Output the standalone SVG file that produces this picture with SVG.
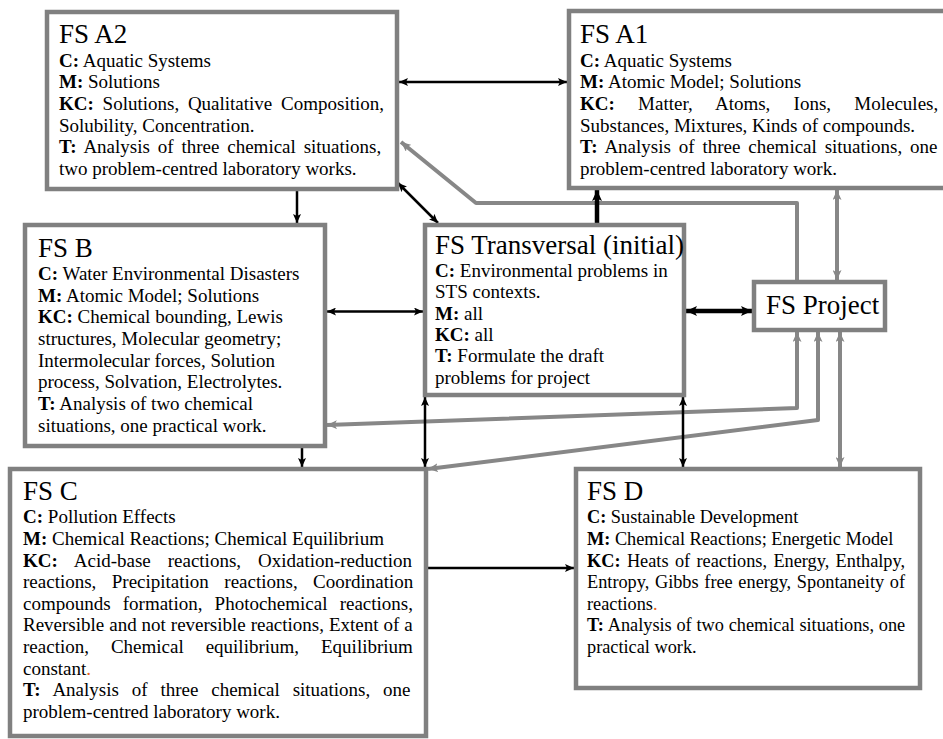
<svg xmlns="http://www.w3.org/2000/svg" width="943" height="739" viewBox="0 0 943 739">
  <style>
    .box { fill: #ffffff; stroke: #808080; stroke-width: 4.5; }
    .t { font-family: "Liberation Serif", "Times New Roman", "DejaVu Serif", serif; font-size: 19px; fill: #000000; }
    .s { font-size: 18.3px; }
    .h { font-family: "Liberation Serif", "Times New Roman", "DejaVu Serif", serif; font-size: 27px; fill: #000000; }
    .b { font-weight: bold; }
    .dot { fill: #e8631a; }
    .blk { fill: none; stroke: #000000; stroke-width: 2.5; }
    .blk-thick { fill: none; stroke: #000000; stroke-width: 4.5; }
    .gry { fill: none; stroke: #878787; stroke-width: 4; stroke-linejoin: round; }
    .a-blk { marker-end: url(#arrow-black); }
    .a-thick { marker-end: url(#arrow-black-lg); }
    .a2-blk { marker-start: url(#arrow-black); marker-end: url(#arrow-black); }
    .a2-thick { marker-start: url(#arrow-black-lg); marker-end: url(#arrow-black-lg); }
    .a-gry { marker-end: url(#arrow-gray); }
    .a2-gry { marker-start: url(#arrow-gray); marker-end: url(#arrow-gray); }
  </style>
  <defs>
    <marker id="arrow-black" markerUnits="userSpaceOnUse" markerWidth="9" markerHeight="8" refX="9" refY="4" orient="auto-start-reverse">
      <path d="M0,0 L9,4 L0,8 L2,4 Z" fill="#000000"/>
    </marker>
    <marker id="arrow-black-lg" markerUnits="userSpaceOnUse" markerWidth="11" markerHeight="10" refX="11" refY="5" orient="auto-start-reverse">
      <path d="M0,0 L11,5 L0,10 L2.5,5 Z" fill="#000000"/>
    </marker>
    <marker id="arrow-gray" markerUnits="userSpaceOnUse" markerWidth="10" markerHeight="9" refX="10" refY="4.5" orient="auto-start-reverse">
      <path d="M0,0 L10,4.5 L0,9 L2.5,4.5 Z" fill="#878787"/>
    </marker>
  </defs>

  <rect width="943" height="739" fill="#ffffff"/>

  <!-- connectors -->
  <g id="connectors">
    <path class="blk a2-blk" d="M399,82 H567"/>
    <path class="blk a-blk" d="M297,191 V223"/>
    <path class="blk a2-blk" d="M398,183 L438,223"/>
    <path class="gry a-gry" d="M797,280 V203 H476 L401,142"/>
    <path class="blk-thick a-thick" d="M597,223 V190"/>
    <path class="gry a2-gry" d="M837,190 V280"/>
    <path class="blk a2-blk" d="M327,311.5 H423"/>
    <path class="blk-thick a2-thick" d="M686,311 H752"/>
    <path class="gry a2-gry" d="M797,332 V408 L327,425"/>
    <path class="gry a2-gry" d="M818,332 V420 L428,469"/>
    <path class="gry a2-gry" d="M840,332 V467"/>
    <path class="blk a-blk" d="M302,448 V467"/>
    <path class="blk a2-blk" d="M425,397 V467"/>
    <path class="blk a2-blk" d="M683,397 V467"/>
    <path class="blk a-blk" d="M428,568 H574"/>
  </g>

  <!-- FS A2 -->
  <g id="fs-a2">
    <rect class="box" x="47" y="12" width="350" height="177"/>
    <text class="h" x="59" y="43">FS A2</text>
    <text class="t" x="59" y="66.7"><tspan class="b">C:</tspan> Aquatic Systems</text>
    <text class="t" x="59" y="88.3"><tspan class="b">M:</tspan> Solutions</text>
    <text class="t" x="59" y="110" style="word-spacing:4px"><tspan class="b">KC:</tspan> Solutions, Qualitative Composition,</text>
    <text class="t" x="59" y="131.7">Solubility, Concentration.</text>
    <text class="t" x="59" y="153.3" style="word-spacing:3.1px"><tspan class="b">T:</tspan> Analysis of three chemical situations,</text>
    <text class="t" x="59" y="175">two problem-centred laboratory works.</text>
  </g>

  <!-- FS A1 -->
  <g id="fs-a1">
    <rect class="box" x="569" y="11" width="390" height="177"/>
    <text class="h" x="580" y="43">FS A1</text>
    <text class="t" x="580" y="66.7"><tspan class="b">C:</tspan> Aquatic Systems</text>
    <text class="t" x="580" y="88.3"><tspan class="b">M:</tspan> Atomic Model; Solutions</text>
    <text class="t" x="580" y="110" style="word-spacing:18.5px"><tspan class="b">KC:</tspan> Matter, Atoms, Ions, Molecules,</text>
    <text class="t" x="580" y="131.7">Substances, Mixtures, Kinds of compounds.</text>
    <text class="t" x="580" y="153.3" style="word-spacing:3.1px"><tspan class="b">T:</tspan> Analysis of three chemical situations, one</text>
    <text class="t" x="580" y="175">problem-centred laboratory work.</text>
  </g>

  <!-- FS B -->
  <g id="fs-b">
    <rect class="box" x="25" y="225" width="300" height="221"/>
    <text class="h" x="38" y="257">FS B</text>
    <text class="t" x="38" y="280"><tspan class="b">C:</tspan> Water Environmental Disasters</text>
    <text class="t" x="38" y="301.7"><tspan class="b">M:</tspan> Atomic Model; Solutions</text>
    <text class="t" x="38" y="323.3"><tspan class="b">KC:</tspan> Chemical bounding, Lewis</text>
    <text class="t" x="38" y="345">structures, Molecular geometry;</text>
    <text class="t" x="38" y="366.7">Intermolecular forces, Solution</text>
    <text class="t" x="38" y="388.3">process, Solvation, Electrolytes.</text>
    <text class="t" x="38" y="410"><tspan class="b">T:</tspan> Analysis of two chemical</text>
    <text class="t" x="38" y="431.7">situations, one practical work.</text>
  </g>

  <!-- FS Transversal -->
  <g id="fs-transversal">
    <rect class="box" x="425" y="225" width="259" height="170"/>
    <text class="h" x="435" y="254">FS Transversal (initial)</text>
    <text class="t" x="435" y="277"><tspan class="b">C:</tspan> Environmental problems in</text>
    <text class="t" x="435" y="298.3">STS contexts.</text>
    <text class="t" x="435" y="319.6"><tspan class="b">M:</tspan> all</text>
    <text class="t" x="435" y="341"><tspan class="b">KC:</tspan> all</text>
    <text class="t" x="435" y="362.2"><tspan class="b">T:</tspan> Formulate the draft</text>
    <text class="t" x="435" y="383.5">problems for project</text>
  </g>

  <!-- FS Project -->
  <g id="fs-project">
    <rect class="box" x="754" y="282" width="131" height="48"/>
    <text class="h" x="766" y="314">FS Project</text>
  </g>

  <!-- FS C -->
  <g id="fs-c">
    <rect class="box" x="10" y="469" width="416" height="267"/>
    <text class="h" x="23" y="500">FS C</text>
    <text class="t" x="23" y="523.3"><tspan class="b">C:</tspan> Pollution Effects</text>
    <text class="t" x="23" y="545"><tspan class="b">M:</tspan> Chemical Reactions; Chemical Equilibrium</text>
    <text class="t" x="23" y="566.6" style="word-spacing:12.2px"><tspan class="b">KC:</tspan> Acid-base reactions, Oxidation-reduction</text>
    <text class="t" x="23" y="588.2" style="word-spacing:10.7px">reactions, Precipitation reactions, Coordination</text>
    <text class="t" x="23" y="609.8" style="word-spacing:7.4px">compounds formation, Photochemical reactions,</text>
    <text class="t" x="23" y="631.4" style="word-spacing:0.2px">Reversible and not reversible reactions, Extent of a</text>
    <text class="t" x="23" y="653" style="word-spacing:17.2px">reaction, Chemical equilibrium, Equilibrium</text>
    <text class="t" x="23" y="674.6">constant<tspan class="dot">.</tspan></text>
    <text class="t" x="23" y="696.2" style="word-spacing:8.1px"><tspan class="b">T:</tspan> Analysis of three chemical situations, one</text>
    <text class="t" x="23" y="717.8">problem-centred laboratory work.</text>
  </g>

  <!-- FS D -->
  <g id="fs-d">
    <rect class="box" x="576" y="469" width="344" height="219"/>
    <text class="h" x="587" y="500">FS D</text>
    <text class="t s" x="587" y="523.3"><tspan class="b">C:</tspan> Sustainable Development</text>
    <text class="t s" x="587" y="545"><tspan class="b">M:</tspan> Chemical Reactions; Energetic Model</text>
    <text class="t s" x="587" y="566.6" style="word-spacing:1.8px"><tspan class="b">KC:</tspan> Heats of reactions, Energy, Enthalpy,</text>
    <text class="t s" x="587" y="588.2" style="word-spacing:1.1px">Entropy, Gibbs free energy, Spontaneity of</text>
    <text class="t s" x="587" y="609.8">reactions<tspan class="dot">.</tspan></text>
    <text class="t s" x="587" y="631.4" style="word-spacing:0.2px"><tspan class="b">T:</tspan> Analysis of two chemical situations, one</text>
    <text class="t s" x="587" y="653">practical work.</text>
  </g>
</svg>
